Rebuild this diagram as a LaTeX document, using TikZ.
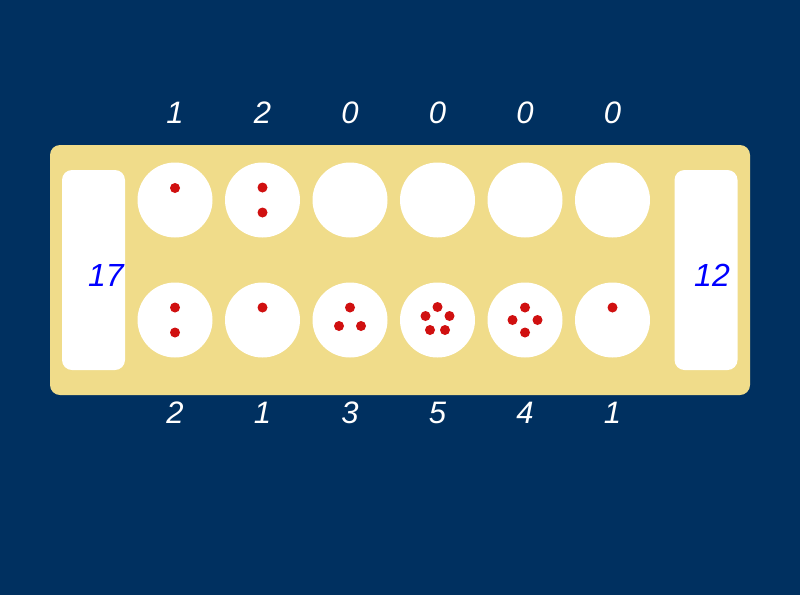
\documentclass[tikz,border=0pt]{standalone}
\usepackage{fontspec}
\setmainfont{Liberation Sans}
\definecolor{navy}{RGB}{0,48,96}
\definecolor{boardc}{RGB}{240,220,138}
\definecolor{seedc}{RGB}{208,16,16}
\definecolor{storetxt}{RGB}{0,0,255}
\tikzset{
  pit/.style={circle,fill=white,minimum size=75pt,inner sep=0pt},
  store/.style={rectangle,rounded corners=10pt,fill=white,minimum width=63pt,minimum height=200pt,inner sep=0pt},
  count/.style={text=white,font=\fontsize{31}{31}\selectfont\itshape,inner sep=0pt},
  storecount/.style={text=storetxt,font=\fontsize{32}{32}\selectfont\itshape,inner sep=0pt},
  seed/.style={circle,fill=seedc,minimum size=10pt,inner sep=0pt}
}
\begin{document}
\begin{tikzpicture}[x=1pt,y=-1pt]
\useasboundingbox (0,0) rectangle (800,595);
\fill[navy] (0,0) rectangle (800,595);
\node[rectangle,rounded corners=10pt,fill=boardc,minimum width=700pt,minimum height=250pt,inner sep=0pt] (board) at (400,270) {};
\node[store] (lstore) at (93.5,270) {};
\node[store] (rstore) at (706,270) {};
\node[storecount] (lcount) at (106,275) {17};
\node[storecount] (rcount) at (712,275) {12};
% pits
\foreach \i/\x in {1/175,2/262.5,3/350,4/437.5,5/525,6/612.5}{
  \node[pit] (t\i) at (\x,200) {};
  \node[pit] (b\i) at (\x,320) {};
}
% top counts
\foreach \i/\x/\n in {1/175/1,2/262.5/2,3/350/0,4/437.5/0,5/525/0,6/612.5/0}{
  \node[count] (tc\i) at (\x,113) {\n};
}
\foreach \i/\x/\n in {1/175/2,2/262.5/1,3/350/3,4/437.5/5,5/525/4,6/612.5/1}{
  \node[count] (bc\i) at (\x,413) {\n};
}
% seeds top
\node[seed] (s1) at ([yshift=12pt]t1.center) {};
\node[seed] (s2) at ([yshift=12.5pt]t2.center) {};
\node[seed] (s3) at ([yshift=-12.5pt]t2.center) {};
% seeds bottom
\node[seed] (s4) at ([yshift=12.5pt]b1.center) {};
\node[seed] (s5) at ([yshift=-12.5pt]b1.center) {};
\node[seed] (s6) at ([yshift=12.5pt]b2.center) {};
\node[seed] (s7) at ([yshift=12.5pt]b3.center) {};
\node[seed] (s8) at ([xshift=-11pt,yshift=-6pt]b3.center) {};
\node[seed] (s9) at ([xshift=11pt,yshift=-6pt]b3.center) {};
\node[seed] (s10) at ([yshift=13pt]b4.center) {};
\node[seed] (s11) at ([xshift=-12pt,yshift=4pt]b4.center) {};
\node[seed] (s12) at ([xshift=12pt,yshift=4pt]b4.center) {};
\node[seed] (s13) at ([xshift=-7.5pt,yshift=-10pt]b4.center) {};
\node[seed] (s14) at ([xshift=7.5pt,yshift=-10pt]b4.center) {};
\node[seed] (s15) at ([yshift=12.5pt]b5.center) {};
\node[seed] (s16) at ([yshift=-12.5pt]b5.center) {};
\node[seed] (s17) at ([xshift=-12.5pt]b5.center) {};
\node[seed] (s18) at ([xshift=12.5pt]b5.center) {};
\node[seed] (s19) at ([yshift=12.5pt]b6.center) {};
\end{tikzpicture}
\end{document}
